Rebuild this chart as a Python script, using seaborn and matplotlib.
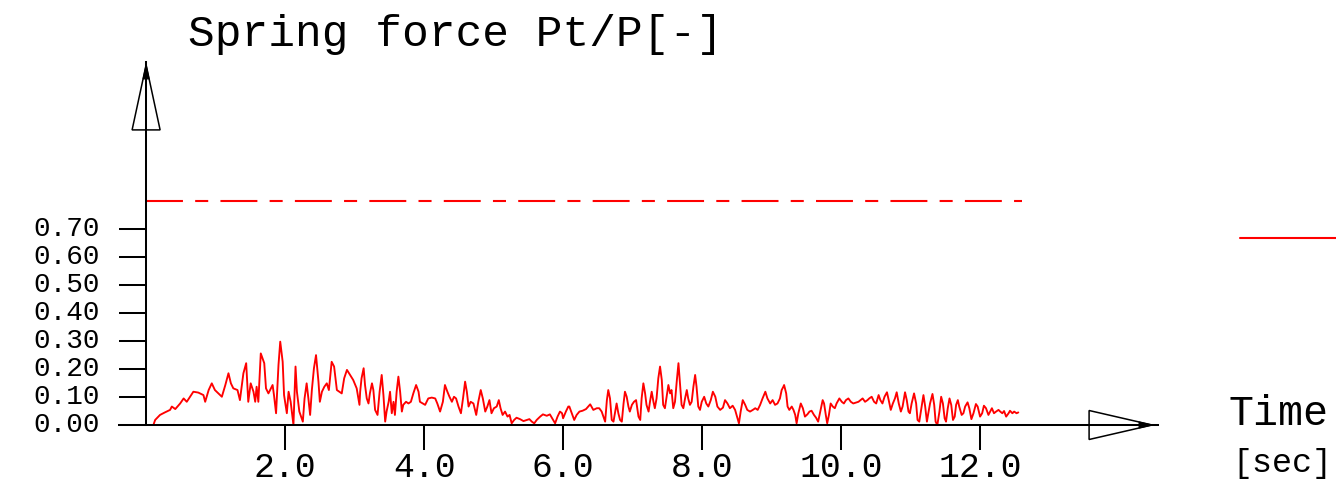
import numpy as np
import pandas as pd
import matplotlib
matplotlib.use("Agg")
import matplotlib.pyplot as plt
import matplotlib.transforms as mtransforms
from matplotlib.patches import Polygon
from matplotlib.lines import Line2D
import seaborn as sns

# Spring force response Pt/P over time (vertices of the recorded trace)
time_s = [
    0.0, 0.105, 0.13, 0.20, 0.27, 0.345, 0.37, 0.42, 0.49, 0.54, 0.585, 0.68, 0.75, 0.825, 0.85, 0.90,
    0.945, 0.99, 1.04, 1.09, 1.14, 1.185, 1.22, 1.255, 1.315, 1.35, 1.40, 1.44, 1.47, 1.505, 1.545,
    1.57, 1.59, 1.615, 1.65, 1.70, 1.725, 1.76, 1.795, 1.82, 1.84, 1.87, 1.905, 1.93, 1.965, 1.985,
    2.025, 2.05, 2.08, 2.12, 2.15, 2.17, 2.205, 2.255, 2.28, 2.31, 2.335, 2.36, 2.385, 2.415, 2.445,
    2.48, 2.50, 2.53, 2.565, 2.60, 2.63, 2.67, 2.705, 2.745, 2.78, 2.815, 2.85, 2.89, 2.935, 2.98,
    3.03, 3.07,
    3.08, 3.10, 3.13, 3.15, 3.175, 3.20, 3.22, 3.25, 3.27, 3.295, 3.33, 3.36, 3.39, 3.415, 3.44,
    3.46, 3.49, 3.51, 3.535, 3.56, 3.58, 3.605, 3.63, 3.655, 3.68, 3.70, 3.74, 3.775, 3.81, 3.845,
    3.885, 3.92, 3.94, 3.98, 4.015, 4.06, 4.11, 4.16, 4.19, 4.23, 4.27, 4.30, 4.335, 4.365, 4.40,
    4.43, 4.46, 4.495, 4.53, 4.56, 4.59, 4.615, 4.64, 4.67, 4.71, 4.75, 4.78, 4.815, 4.845, 4.88,
    4.91, 4.94, 4.97, 5.005, 5.045, 5.075, 5.10, 5.13, 5.165, 5.20, 5.23, 5.26, 5.295, 5.33, 5.38,
    5.43, 5.48, 5.515, 5.55, 5.585, 5.62, 5.67, 5.71, 5.765, 5.81, 5.85, 5.885, 5.92, 5.955, 5.985,
    6.00, 6.04, 6.075,
    6.09, 6.125, 6.16, 6.195, 6.235, 6.28, 6.33, 6.39, 6.435, 6.485, 6.52, 6.555, 6.58, 6.605, 6.63,
    6.65, 6.675, 6.70, 6.725, 6.75, 6.77, 6.795, 6.82, 6.845, 6.87, 6.89, 6.915, 6.94, 6.96, 6.99,
    7.02, 7.05, 7.085, 7.11, 7.13, 7.155, 7.18, 7.20, 7.23, 7.25, 7.275, 7.30, 7.32, 7.345, 7.37,
    7.395, 7.42, 7.44, 7.465, 7.49, 7.515, 7.54, 7.56, 7.585, 7.61, 7.635, 7.66, 7.68, 7.705, 7.73,
    7.755, 7.78, 7.80, 7.825, 7.85, 7.875, 7.90, 7.92, 7.945, 7.97, 7.995, 8.03, 8.06, 8.09, 8.125,
    8.155, 8.19, 8.22, 8.26, 8.30, 8.33, 8.365, 8.40, 8.44, 8.475, 8.51, 8.53, 8.555, 8.585, 8.62,
    8.65, 8.69, 8.73, 8.765, 8.80, 8.835, 8.87, 8.91, 8.94, 8.98, 9.015, 9.05, 9.085, 9.12,
    9.145, 9.17, 9.18, 9.21, 9.23, 9.255, 9.29, 9.315, 9.34, 9.36, 9.385, 9.42, 9.45, 9.48, 9.515,
    9.545, 9.575, 9.61, 9.64, 9.67, 9.705, 9.735, 9.755, 9.78, 9.80, 9.825, 9.85, 9.88, 9.91, 9.935,
    9.975, 10.01, 10.04, 10.07, 10.105, 10.14, 10.175, 10.215, 10.25, 10.28, 10.31, 10.345, 10.38,
    10.405, 10.44, 10.475, 10.505, 10.54, 10.565, 10.595, 10.625, 10.66, 10.68, 10.715, 10.745,
    10.775, 10.80, 10.83, 10.86, 10.885, 10.92, 10.945, 10.97, 10.99, 11.015, 11.05, 11.08, 11.10,
    11.125, 11.16, 11.185, 11.21, 11.235, 11.255, 11.28, 11.315, 11.34, 11.36, 11.385, 11.415,
    11.44, 11.465, 11.49, 11.51, 11.535, 11.56, 11.585, 11.61, 11.635, 11.655, 11.68, 11.70, 11.735,
    11.76, 11.785, 11.82, 11.845, 11.875, 11.905, 11.94, 11.965, 12.0, 12.03, 12.055, 12.085, 12.12,
    12.145, 12.17, 12.20, 12.23, 12.265, 12.29, 12.32, 12.345, 12.375, 12.41, 12.43, 12.465, 12.49,
    12.525, 12.55,
]
force_ratio = [
    0.0, 0.0, 0.018, 0.036, 0.045, 0.054, 0.066, 0.057, 0.077, 0.095, 0.083, 0.119, 0.116, 0.107, 0.083, 0.125,
    0.149, 0.125, 0.113, 0.101, 0.143, 0.185, 0.149, 0.131, 0.125, 0.089, 0.185, 0.221, 0.083, 0.149, 0.119,
    0.083, 0.137, 0.083, 0.256, 0.221, 0.131, 0.113, 0.131, 0.143, 0.107, 0.042, 0.215, 0.298, 0.226, 0.107,
    0.042, 0.119, 0.083, 0.0, 0.209, 0.119, 0.048, 0.012, 0.095, 0.149, 0.095, 0.036, 0.125, 0.203, 0.250,
    0.155, 0.083, 0.119, 0.137, 0.149, 0.125, 0.226, 0.209, 0.125, 0.119, 0.113, 0.167, 0.197, 0.179, 0.161,
    0.131, 0.072,
    0.119, 0.167, 0.203, 0.143, 0.095, 0.077, 0.113, 0.149, 0.125, 0.054, 0.036, 0.119, 0.179, 0.107, 0.012,
    0.048, 0.083, 0.119, 0.042, 0.083, 0.036, 0.119, 0.173, 0.119, 0.048, 0.072, 0.083, 0.077, 0.083, 0.113,
    0.143, 0.119, 0.083, 0.077, 0.072, 0.095, 0.098, 0.095, 0.077, 0.048, 0.083, 0.143, 0.119, 0.101, 0.083,
    0.101, 0.095, 0.066, 0.042, 0.095, 0.155, 0.119, 0.066, 0.083, 0.077, 0.036, 0.083, 0.125, 0.095, 0.048,
    0.066, 0.089, 0.042, 0.060, 0.066, 0.089, 0.060, 0.036, 0.048, 0.030, 0.036, 0.006, 0.018, 0.026, 0.021,
    0.014, 0.018, 0.021, 0.012, 0.006, 0.018, 0.030, 0.038, 0.033, 0.038, 0.021, 0.006, 0.030, 0.048, 0.042,
    0.024, 0.048, 0.066,
    0.066, 0.042, 0.018, 0.036, 0.048, 0.051, 0.057, 0.074, 0.054, 0.060, 0.060, 0.048, 0.030, 0.012, 0.089,
    0.125, 0.095, 0.018, 0.012, 0.048, 0.077, 0.042, 0.018, 0.012, 0.077, 0.119, 0.101, 0.066, 0.048, 0.072,
    0.083, 0.089, 0.030, 0.018, 0.095, 0.149, 0.113, 0.072, 0.048, 0.083, 0.119, 0.083, 0.060, 0.095, 0.167,
    0.209, 0.161, 0.072, 0.060, 0.101, 0.143, 0.113, 0.125, 0.060, 0.083, 0.155, 0.221, 0.155, 0.072, 0.060,
    0.095, 0.125, 0.095, 0.072, 0.083, 0.137, 0.179, 0.137, 0.066, 0.054, 0.083, 0.101, 0.077, 0.066, 0.089,
    0.119, 0.101, 0.066, 0.054, 0.062, 0.089, 0.077, 0.060, 0.069, 0.054, 0.024, 0.006, 0.048, 0.089, 0.072,
    0.054, 0.048, 0.054, 0.060, 0.054, 0.072, 0.095, 0.119, 0.095, 0.077, 0.089, 0.072, 0.077, 0.095,
    0.125, 0.137, 0.143, 0.113, 0.066, 0.054, 0.066, 0.054, 0.036, 0.006, 0.042, 0.077, 0.060, 0.030, 0.038,
    0.048, 0.051, 0.036, 0.026, 0.012, 0.054, 0.089, 0.077, 0.036, 0.006, 0.036, 0.077, 0.066, 0.060, 0.077,
    0.095, 0.083, 0.077, 0.089, 0.095, 0.083, 0.077, 0.080, 0.083, 0.089, 0.095, 0.083, 0.089,
    0.095, 0.101, 0.083, 0.077, 0.107, 0.089, 0.077, 0.101, 0.117, 0.095, 0.054, 0.077,
    0.095, 0.117, 0.077, 0.048, 0.066, 0.117, 0.089, 0.048, 0.042, 0.077, 0.113, 0.077, 0.018,
    0.012, 0.066, 0.107, 0.066, 0.012, 0.042, 0.077, 0.111, 0.072, 0.012, 0.0, 0.048,
    0.101, 0.077, 0.024, 0.012, 0.060, 0.095, 0.072, 0.018, 0.030, 0.072, 0.089, 0.066, 0.036,
    0.042, 0.066, 0.081, 0.060, 0.021, 0.042, 0.075, 0.066, 0.030, 0.042, 0.069, 0.060, 0.036,
    0.048, 0.060, 0.042, 0.048, 0.054, 0.048, 0.042, 0.050, 0.030, 0.042, 0.051, 0.042, 0.048,
    0.042, 0.045,
]

# Allowable level shown as a dash-dot reference line
limit_level = 0.80
limit_end = 12.6

y_ticks = [0.0, 0.1, 0.2, 0.3, 0.4, 0.5, 0.6, 0.7]
y_tick_labels = ["0.00", "0.10", "0.20", "0.30", "0.40", "0.50", "0.60", "0.70"]
x_ticks = [2.0, 4.0, 6.0, 8.0, 10.0, 12.0]
x_tick_labels = ["2.0", "4.0", "6.0", "8.0", "10.0", "12.0"]

title_text = "Spring force Pt/P[-]"
x_name = "Time"
x_unit = "[sec]"

sns.set_theme(style="white")
plt.rcParams["font.family"] = ["Liberation Mono", "DejaVu Sans Mono"]
plt.rcParams["lines.scale_dashes"] = False

W, H, DPI = 1336, 486, 100
fig = plt.figure(figsize=(W / DPI, H / DPI), dpi=DPI)
fig.patch.set_facecolor("white")

# axes frame in pixels: x-axis line from 119 to 1158, y-axis from 425 up to 62
x_min, x_max = -0.39, 14.56
y_min, y_max = 0.0, 1.298
ax = fig.add_axes([119 / W, (H - 425) / H, (1158 - 119) / W, (425 - 62) / H])
ax.set_facecolor("white")

df = pd.DataFrame({"t": time_s, "ratio": force_ratio})
sns.lineplot(data=df, x="t", y="ratio", ax=ax, color="#ff0000", linewidth=1.35,
             estimator=None, sort=False)

ax.hlines(limit_level, 0, limit_end, color="#ff0000", linewidth=1.5,
          linestyle=(0, (26.6, 8.8, 9.4, 8.8)))

ax.set_xlim(x_min, x_max)
ax.set_ylim(y_min, y_max)
ax.set_xlabel("")
ax.set_ylabel("")

for side in ("top", "right"):
    ax.spines[side].set_visible(False)
ax.spines["left"].set_position(("data", 0.0))
for side in ("left", "bottom"):
    ax.spines[side].set_color("black")
    ax.spines[side].set_linewidth(1.45)

ax.set_yticks(y_ticks)
ax.set_yticklabels(y_tick_labels)
ax.set_xticks(x_ticks)
ax.set_xticklabels(x_tick_labels)
ax.tick_params(axis="y", direction="out", length=19.5, width=1.45, pad=13.5,
               labelsize=20, colors="black", left=True)
ax.tick_params(axis="x", direction="out", length=18, width=1.45, pad=1,
               labelsize=25, colors="black", bottom=True)
for lbl in ax.get_yticklabels():
    lbl.set_verticalalignment("center")
ax.grid(False)


def arrow_head(x, y, outline, tip, stem):
    tr = mtransforms.Affine2D() + mtransforms.ScaledTranslation(x, y, ax.transData)
    fig.add_artist(Polygon(outline, closed=True, facecolor="white", edgecolor="black",
                           linewidth=1.1, transform=tr, clip_on=False, zorder=5))
    fig.add_artist(Polygon(tip, closed=True, facecolor="black", edgecolor="black",
                           linewidth=0.8, transform=tr, clip_on=False, zorder=6))
    fig.add_artist(Line2D(stem[0], stem[1], color="black", linewidth=1.45,
                          transform=tr, zorder=7))


# hollow arrow heads at the ends of both axes (offsets in pixels)
arrow_head(0.0, 1.2876, [(0, 0), (-14, -65), (14, -65)], [(0, 0), (-3, -14), (3, -14)],
           ([0, 0], [-65, 3]))
arrow_head(14.475, 0.0, [(0, 0), (-63, 14.5), (-63, -14.5)], [(0, 0), (-13, 3), (-13, -3)],
           ([-63, 6], [0, 0]))

fig.text(188 / W, (H - 46) / H, title_text, fontsize=32, color="black",
         ha="left", va="baseline")
fig.text(1228 / W, (H - 425) / H, x_name, fontsize=30, color="black",
         ha="left", va="baseline")
fig.text(1232 / W, (H - 472) / H, x_unit, fontsize=24, color="black",
         ha="left", va="baseline")

# legend key for the reference level, at the right margin
fig.add_artist(Line2D([1240 / W, 1.0], [(H - 238) / H] * 2, color="#ff0000",
                      linewidth=1.5, transform=fig.transFigure))

fig.savefig("out.png", dpi=DPI, facecolor="white")
